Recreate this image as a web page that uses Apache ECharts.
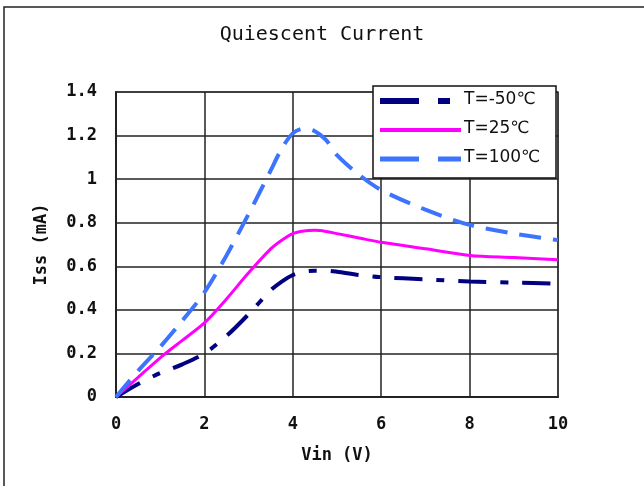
<!DOCTYPE html>
<html><head><meta charset="utf-8">
<script src="https://cdn.jsdelivr.net/npm/echarts@6/dist/echarts.min.js"></script>
<style>html,body{margin:0;padding:0;background:#fff}#c{width:644px;height:486px}</style>
</head><body><div id="c"></div>
<script>
const vin = [0, 0.5, 1, 1.5, 2, 2.5, 3, 3.5, 3.75, 4, 4.25, 4.5, 4.75, 5, 5.5, 6, 7, 8, 9, 10];
const tM50 = [0, 0.06, 0.11, 0.15, 0.20, 0.28, 0.38, 0.49, 0.53, 0.56, 0.575, 0.58, 0.58, 0.575, 0.56, 0.55, 0.54, 0.53, 0.525, 0.52];
const t25 = [0, 0.09, 0.18, 0.26, 0.34, 0.45, 0.57, 0.68, 0.72, 0.75, 0.762, 0.765, 0.76, 0.75, 0.73, 0.71, 0.68, 0.65, 0.64, 0.63];
const t100 = [0, 0.12, 0.23, 0.35, 0.48, 0.65, 0.84, 1.04, 1.14, 1.21, 1.232, 1.22, 1.18, 1.11, 1.02, 0.95, 0.86, 0.79, 0.75, 0.72];
const names = ['T=-50℃', 'T=25℃', 'T=100℃'];
const colors = ['#000080', '#FF00FF', '#3D74FF'];
const pair = (ys) => vin.map((x, i) => [x, ys[i]]);
const mono = 'DejaVu Sans Mono';
const chart = echarts.init(document.getElementById('c'));

const legendText = (t, y) => ({ type: 'text', left: 464, top: y - 10, z: 20,
  style: { text: t, font: '17px "DejaVu Sans"', fill: '#111' } });
const seg = (x1, x2, y, c, w) => ({ type: 'line', z: 20,
  shape: { x1: x1, y1: y, x2: x2, y2: y }, style: { stroke: c, lineWidth: w } });

chart.setOption({
  animation: false,
  backgroundColor: '#fff',
  title: { text: 'Quiescent Current', left: 'center', top: 20,
    textStyle: { fontFamily: mono, fontSize: 20, fontWeight: 'normal', color: '#111' } },
  grid: { left: 116, right: 86, top: 92, bottom: 89, show: true, borderColor: '#999', borderWidth: 2 },
  xAxis: { type: 'value', min: 0, max: 10, interval: 2,
    name: 'Vin (V)', nameLocation: 'middle', nameGap: 50,
    nameTextStyle: { fontFamily: mono, fontSize: 17, fontWeight: 'bold', color: '#111' },
    axisLine: { lineStyle: { color: '#222', width: 2 } },
    axisTick: { show: false },
    axisLabel: { fontFamily: mono, fontSize: 17, fontWeight: 'bold', color: '#111', margin: 19 },
    splitLine: { lineStyle: { color: '#222', width: 1.5 } } },
  yAxis: { type: 'value', min: 0, max: 1.4, interval: 0.2,
    name: 'Iss (mA)', nameLocation: 'middle', nameGap: 66, nameRotate: 90,
    nameTextStyle: { fontFamily: mono, fontSize: 17, fontWeight: 'bold', color: '#111' },
    axisLine: { show: true, lineStyle: { color: '#222', width: 2 } },
    axisTick: { show: false },
    axisLabel: { fontFamily: mono, fontSize: 17, fontWeight: 'bold', color: '#111', margin: 19,
      formatter: v => String(Math.round(v * 10) / 10) },
    splitLine: { lineStyle: { color: '#222', width: 1.5 } } },
  legend: { show: false, data: names },
  graphic: [
    { type: 'rect', shape: { x: 4, y: 7, width: 700, height: 520 },
      style: { fill: null, stroke: '#222', lineWidth: 1.5 }, z: 100 },
    { type: 'rect', z: 19, shape: { x: 373, y: 86, width: 183, height: 92 },
      style: { fill: '#fff', stroke: '#111', lineWidth: 1.5 } },
    seg(380, 419, 101, colors[0], 6), seg(438, 450, 101, colors[0], 6),
    seg(380, 461, 130, colors[1], 4),
    seg(380, 419, 159, colors[2], 5), seg(438, 461, 159, colors[2], 5),
    legendText(names[0], 101), legendText(names[1], 130), legendText(names[2], 159)
  ],
  series: [
    { name: names[0], type: 'line', smooth: 0.3, symbol: 'none', data: pair(tM50),
      lineStyle: { color: colors[0], width: 4, type: [28, 14, 8, 14] }, itemStyle: { color: colors[0] } },
    { name: names[1], type: 'line', smooth: 0.3, symbol: 'none', data: pair(t25),
      lineStyle: { color: colors[1], width: 3 }, itemStyle: { color: colors[1] } },
    { name: names[2], type: 'line', smooth: 0.3, symbol: 'none', data: pair(t100),
      lineStyle: { color: colors[2], width: 4, type: [22, 12] }, itemStyle: { color: colors[2] } }
  ]
});
</script></body></html>
